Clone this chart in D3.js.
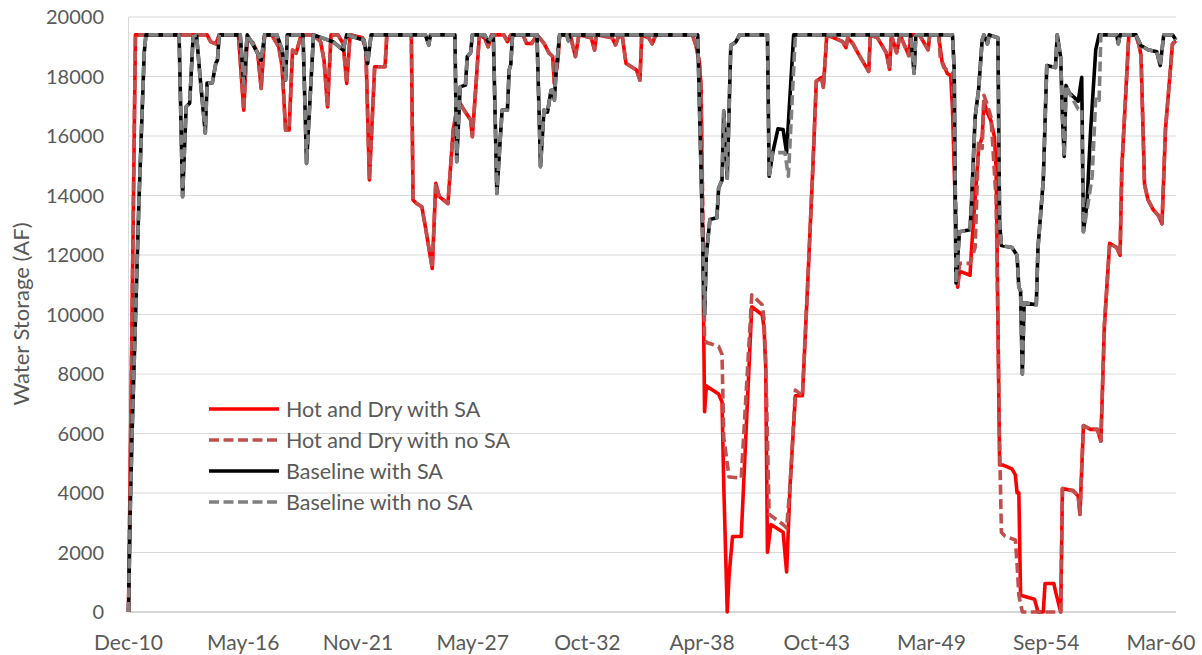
<!DOCTYPE html>
<html>
<head>
<meta charset="utf-8">
<script src="https://cdn.jsdelivr.net/npm/d3@7"></script>
<style>
  html, body { margin: 0; padding: 0; background: #fff; }
  svg { display: block; }
  text { font-family: Lato, "Open Sans", sans-serif; fill: #595959; }
</style>
</head>
<body>
<svg id="chart" width="1202" height="655"></svg>
<script>
// Monthly reservoir storage (acre-feet); first value of each pair = months since Dec 1910.
const hotDryWithSA = [
  [0,0],[4,19400],[45,19400],[47,19170],[50,19100],[52,19400],
  [63,19400],[66,16870],[68,19300],[71,19150],[74,18780],[76,17600],[78,19400],
  [82,19400],[86,19000],[88,18330],[90,16200],[92,16200],[94,18890],[96,18780],[99,19400],
  [106,19400],[110,19170],[112,18550],[114,16980],[116,19400],
  [120,19400],[123,19100],[125,17770],[127,19400],
  [134,19300],[136,18890],[138,14520],[141,18330],[147,18330],[148,19400],
  [162,19400],[163,13850],[165,13730],[168,13620],[170,12950],[174,11550],[176,14410],[178,13960],
  [183,13730],[186,16200],[189,17210],[191,16980],[196,16540],[197,15980],[199,17650],[201,19400],
  [204,19300],[206,19000],[208,19400],[215,19400],[217,19170],[219,19400],
  [226,19400],[228,19110],[231,19110],[234,19400],[238,19110],[241,18780],[243,18670],[244,17770],[246,18550],[247,19400],
  [253,19400],[256,18670],[258,19400],[265,19300],[267,18890],[268,19400],
  [277,19300],[279,19060],[281,19400],[283,19300],[285,18440],[288,18330],[291,18220],[293,17880],[294,19400],
  [298,19300],[300,19100],[302,19400],[323,19400],[325,19040],[327,18500],[328,17650],
  [330,6730],[331,7600],[338,7330],[340,7060],[341,4270],[343,0],[344,1210],[346,2540],[351,2540],
  [357,10260],[363,9990],[364,9590],[365,8270],[366,2010],[368,2940],[375,2680],[377,1350],[379,4270],
  [382,7270],[386,7270],[389,10920],[392,14910],[394,17840],[397,17970],[398,17640],[400,19400],
  [409,19170],[411,18970],[412,19300],[415,19100],[418,18770],[424,18170],[425,19400],
  [429,19300],[434,18800],[436,18240],[437,19400],[440,18800],[442,19400],[447,18700],[448,19400],
  [453,19400],[458,18900],[459,19400],[464,19400],[466,18500],[469,18100],[471,18030],[472,16900],
  [475,10920],[476,11460],[482,11320],[483,12250],[487,15580],[489,15970],[490,17170],[492,16770],
  [494,16510],[496,15970],[497,14910],[499,4940],[501,4940],[506,4810],[508,4610],[509,4010],[510,4010],
  [511,560],[519,430],[521,0],[524,0],[525,960],[530,960],[531,700],[534,0],[535,4150],[541,4080],
  [544,3900],[545,3280],[547,6270],[551,6140],[555,6140],[557,5740],[559,9600],[562,12390],[566,12250],
  [568,11990],[569,14910],[573,19400],[577,19400],[579,19030],[580,18700],[582,14380],[584,13850],
  [587,13520],[590,13320],[592,13050],[594,16240],[598,19100],[600,19200]
];

const hotDryNoSA = [
  [0,0],[4,19400],[45,19400],[47,19170],[50,19100],[52,19400],
  [63,19400],[66,16870],[68,19300],[71,19150],[74,18780],[76,17600],[78,19400],
  [82,19400],[86,19000],[88,18330],[90,16200],[92,16200],[94,18890],[96,18780],[99,19400],
  [106,19400],[110,19170],[112,18550],[114,16980],[116,19400],
  [120,19400],[123,19100],[125,17770],[127,19400],
  [134,19300],[136,18890],[138,14520],[141,18330],[147,18330],[148,19400],
  [162,19400],[163,13850],[165,13730],[168,13620],[170,12950],[174,11550],[176,14410],[178,13960],
  [183,13730],[186,16200],[189,17210],[191,16980],[196,16540],[197,15980],[199,17650],[201,19400],
  [204,19300],[206,19000],[208,19400],[215,19400],[217,19170],[219,19400],
  [226,19400],[228,19110],[231,19110],[234,19400],[238,19110],[241,18780],[243,18670],[244,17770],[246,18550],[247,19400],
  [253,19400],[256,18670],[258,19400],[265,19300],[267,18890],[268,19400],
  [277,19300],[279,19060],[281,19400],[283,19300],[285,18440],[288,18330],[291,18220],[293,17880],[294,19400],
  [298,19300],[300,19100],[302,19400],[323,19400],[325,19040],[327,18500],[328,17650],
  [330,9190],[331,9060],[338,8930],[340,8660],[341,5870],[344,4540],[351,4500],
  [357,10660],[363,10330],[364,9860],[365,8500],[367,3280],[368,3240],[375,2940],[377,2820],[379,4270],
  [382,7460],[386,7270],[389,10920],[392,14910],[394,17840],[397,17970],[398,17640],[400,19400],
  [409,19170],[411,18970],[412,19300],[415,19100],[418,18770],[424,18170],[425,19400],
  [429,19300],[434,18800],[436,18240],[437,19400],[440,18800],[442,19400],[447,18700],[448,19400],
  [453,19400],[458,18900],[459,19400],[464,19400],[465,18630],[467,18300],[472,18100],
  [475,10920],[476,11720],[482,11720],[485,12250],[487,15850],[489,15580],[490,17370],[492,17050],
  [494,16640],[497,13850],[499,5610],[500,2680],[502,2550],[508,2420],[509,1620],[510,560],[512,0],
  [534,0],[535,4150],[541,4080],
  [544,3900],[545,3280],[547,6270],[551,6140],[555,6140],[557,5740],[559,9600],[562,12390],[566,12250],
  [568,11990],[569,14910],[573,19400],[577,19400],[579,19030],[580,18700],[582,14380],[584,13850],
  [587,13520],[590,13320],[592,13050],[594,16240],[598,19100],[600,19200]
];

const baselineWithSA = [
  [0,0],[1,3500],[2,6000],[6,13800],[9,18800],[10,19400],
  [29,19400],[31,13960],[33,16980],[35,17100],[37,19340],[39,19400],[41,18000],[44,16100],[45,17780],
  [48,17780],[50,18450],[51,18550],[52,19400],
  [64,19400],[66,17770],[68,19400],[71,19100],[76,18550],[78,19400],
  [85,19400],[88,18900],[90,17880],[91,19400],
  [100,19400],[102,15080],[106,19400],[117,19170],[123,18890],[125,19400],[135,19220],[137,18440],[139,19400],
  [170,19400],[172,19060],[173,19400],
  [187,19400],[188,15140],[190,17650],[193,17710],[194,18670],[196,18800],[197,19400],
  [204,19400],[206,19170],[209,19400],[211,14070],[213,15980],[214,16870],[217,16870],[218,18220],[219,18400],[220,19400],
  [234,19400],[236,14970],[238,16870],[240,16800],[242,17540],[243,17540],[244,17210],[245,18220],[247,19400],
  [251,19400],[252,19200],[253,19400],
  [326,19400],[330,9990],[331,11990],[333,13190],[337,13250],[338,14250],[340,14510],[341,16840],[343,14580],
  [345,19040],[348,19170],[350,19400],
  [366,19400],[367,14650],[369,15440],[372,16240],[375,16220],[377,15440],[381,19400],
  [448,19400],[450,18110],[451,19400],
  [472,19400],[473,18230],[474,11060],[476,12780],[482,12850],[483,13850],[485,16640],[487,17570],
  [489,19230],[490,19400],[492,19100],[493,19400],[498,19300],[499,13050],[500,12320],[506,12250],
  [509,11990],[510,10920],[511,10790],[512,8000],[513,10390],[520,10330],[521,12250],[524,14510],
  [526,18370],[531,18300],[532,19400],[534,18630],[535,16640],[536,15310],[537,17700],[539,17440],
  [544,17170],[546,17970],[547,12780],[549,13720],[551,16110],[554,18900],[556,19400],
  [566,19400],[567,19100],[568,19400],[577,19400],[580,19040],[584,18900],[589,18830],[591,18370],
  [593,19400],[598,19400],[600,19230]
];

const baselineNoSA = [
  [0,0],[1,3500],[2,6000],[6,13800],[9,18800],[10,19400],
  [29,19400],[31,13960],[33,16980],[35,17100],[37,19340],[39,19400],[41,18000],[44,16100],[45,17780],
  [48,17780],[50,18450],[51,18550],[52,19400],
  [64,19400],[66,17770],[68,19400],[71,19100],[76,18550],[78,19400],
  [85,19400],[88,18900],[90,17880],[91,19400],
  [100,19400],[102,15080],[106,19400],[117,19170],[123,18890],[125,19400],[135,19220],[137,18440],[139,19400],
  [170,19400],[172,19060],[173,19400],
  [187,19400],[188,15140],[190,17650],[193,17710],[194,18670],[196,18800],[197,19400],
  [204,19400],[206,19170],[209,19400],[211,14070],[213,15980],[214,16870],[217,16870],[218,18220],[219,18400],[220,19400],
  [234,19400],[236,14970],[238,16870],[240,16800],[242,17540],[243,17540],[244,17210],[245,18220],[247,19400],
  [251,19400],[252,19200],[253,19400],
  [326,19400],[330,9990],[331,11990],[333,13190],[337,13250],[338,14250],[340,14510],[341,16840],[343,14580],
  [345,19040],[348,19170],[350,19400],
  [366,19400],[367,14650],[369,15440],[376,15440],[378,14650],[382,19400],
  [448,19400],[450,18110],[451,19400],
  [472,19400],[473,18230],[474,11060],[476,12780],[482,12850],[483,13850],[485,16640],[487,17570],
  [489,19230],[490,19400],[492,19100],[493,19400],[498,19300],[499,13050],[500,12320],[506,12250],
  [509,11990],[510,10920],[511,10790],[512,8000],[513,10390],[520,10330],[521,12250],[524,14510],
  [526,18370],[531,18300],[532,19400],[534,18630],[535,16640],[536,15310],[537,17700],[539,17440],
  [544,16900],[546,16900],[547,12780],[549,13500],[552,14650],[554,17300],[556,17200],[557,19400],
  [566,19400],[567,19100],[568,19400],[577,19400],[580,19040],[584,18900],[589,18830],[591,18370],
  [593,19400],[598,19400],[600,19230]
];

const yTicks = d3.range(0, 20001, 2000);
const xTickDayOffsets = d3.range(0, 18001, 2000);   // axis labels every 2000 days

const seriesList = [
  { name: "Hot and Dry with SA",    data: hotDryWithSA,   color: "#ff0000", dash: null },
  { name: "Hot and Dry with no SA", data: hotDryNoSA,     color: "#c0504d", dash: "10,4.5" },
  { name: "Baseline with SA",       data: baselineWithSA, color: "#000000", dash: null },
  { name: "Baseline with no SA",    data: baselineNoSA,   color: "#808080", dash: "10,4.5" }
];

const svg = d3.select("#chart");
const plot = { left: 128.5, right: 1176, top: 17, bottom: 612 };

const start = new Date(Date.UTC(1910, 11, 1));
const toDate = m => d3.utcMonth.offset(start, m);

const x = d3.scaleUtc()
  .domain([start, d3.utcMonth.offset(start, 600)])
  .range([plot.left, plot.right]);

const y = d3.scaleLinear()
  .domain([0, 20000])
  .range([plot.bottom, plot.top]);

// horizontal gridlines
svg.append("g")
  .selectAll("line")
  .data(yTicks.filter(d => d > 0))
  .join("line")
  .attr("x1", plot.left).attr("x2", plot.right)
  .attr("y1", d => y(d)).attr("y2", d => y(d))
  .attr("stroke", "#d9d9d9").attr("stroke-width", 1);

// left frame and category axis line
svg.append("line")
  .attr("x1", plot.left).attr("x2", plot.left)
  .attr("y1", plot.top).attr("y2", plot.bottom)
  .attr("stroke", "#d9d9d9").attr("stroke-width", 1);
svg.append("line")
  .attr("x1", plot.left).attr("x2", plot.right)
  .attr("y1", plot.bottom).attr("y2", plot.bottom)
  .attr("stroke", "#c8c8c8").attr("stroke-width", 1.3);

// y tick labels
svg.append("g")
  .selectAll("text")
  .data(yTicks)
  .join("text")
  .attr("x", 104)
  .attr("y", d => y(d))
  .attr("dy", "0.36em")
  .attr("text-anchor", "end")
  .style("font-size", "20px")
  .text(d => d);

// x tick labels
const fmt = d3.utcFormat("%b-%y");
const xLabels = svg.append("g")
  .selectAll("text")
  .data(xTickDayOffsets.map(d => d3.utcDay.offset(start, d)))
  .join("text")
  .attr("x", d => x(d))
  .attr("y", 650)
  .attr("text-anchor", "middle")
  .style("font-size", "21px")
  .text(d => fmt(d));

// keep the last label inside the drawing
xLabels.each(function() {
  const w = this.getComputedTextLength();
  const cx = +this.getAttribute("x");
  if (cx + w / 2 > 1197) this.setAttribute("x", 1197 - w / 2);
});

// axis title
svg.append("text")
  .attr("transform", "translate(29,314) rotate(-90)")
  .attr("text-anchor", "middle")
  .style("font-size", "22px")
  .text("Water Storage (AF)");

// series lines
const line = d3.line()
  .x(d => x(toDate(d[0])))
  .y(d => y(d[1]));

svg.append("g")
  .selectAll("path")
  .data(seriesList)
  .join("path")
  .attr("d", s => line(s.data))
  .attr("fill", "none")
  .attr("stroke", s => s.color)
  .attr("stroke-width", 3.6)
  .attr("stroke-linejoin", "round")
  .attr("stroke-dasharray", s => s.dash);

// legend
const legend = svg.append("g")
  .selectAll("g")
  .data(seriesList)
  .join("g")
  .attr("transform", (s, i) => `translate(0,${409 + i * 31})`);
legend.append("line")
  .attr("x1", 209).attr("x2", 279)
  .attr("y1", 0).attr("y2", 0)
  .attr("stroke", s => s.color)
  .attr("stroke-width", 3.6)
  .attr("stroke-dasharray", s => s.dash);
legend.append("text")
  .attr("x", 286)
  .attr("y", 0)
  .attr("dy", "0.36em")
  .style("font-size", "21.5px")
  .text(s => s.name);
</script>
</body>
</html>
